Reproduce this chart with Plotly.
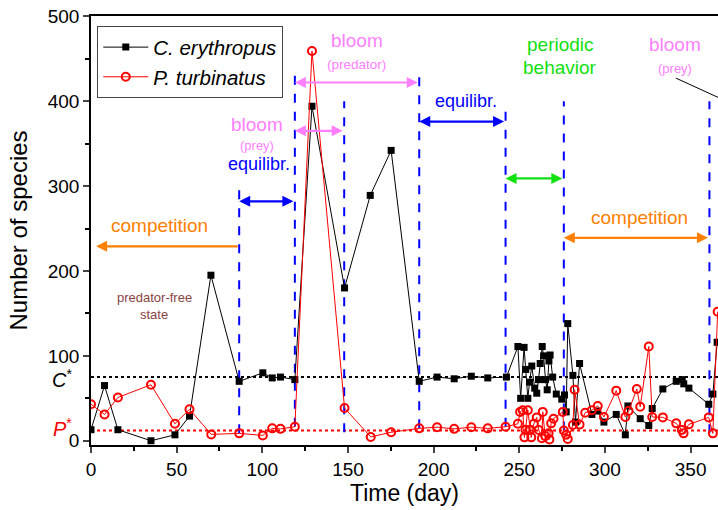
import plotly.graph_objects as go

# ---- data ----
c_day = [0, 7.9, 15.7, 35, 49, 57.5, 70, 86.5, 100.3, 105.8, 110.6, 119, 129, 148, 163, 175.2,
         191.6, 202, 212, 222, 231.6, 242.5, 249.2, 250.8, 252.8, 253.8, 255, 256, 257.3, 259, 260.2,
         261.2, 262.2, 263.4, 264.2, 265.3, 266.3, 267.3, 268, 269.5, 271.6, 274.8, 276.4, 277.4, 278.3,
         281.3, 282.8, 285.2, 292.4, 295.8, 299.4, 306.6, 311.9, 313.4, 320.6, 325.6, 327.6, 333.8,
         341.6, 345.1, 346, 349, 360.6, 363, 365.5]
c_val = [13, 65, 13, 0, 7, 29, 195, 70, 80, 74, 75, 72, 394, 180, 289, 342,
         70, 75, 73, 76, 74, 75, 111, 50, 110, 84, 50, 69, 88, 62, 56,
         72, 91, 111, 100, 72, 60, 94, 101, 75, 55, 49, 54, 34, 138,
         77, 22, 91, 31, 35, 22, 31, 7, 41, 26, 18, 38, 61,
         70, 72, 67, 62, 43, 55, 116]

p_day = [0, 7.9, 15.7, 35, 49, 57.5, 70.2, 86.5, 100.3, 105.8, 110.6, 119, 129, 148, 163.3, 175.2,
         191.6, 202, 212, 222, 231.6, 242, 249.2, 250.5, 252, 253, 253.6, 255, 256.4, 257, 258.5,
         260.2, 261.4, 263.2, 263.7, 265.1, 267.1, 267.6, 268.6, 270, 275.4, 276, 277.4, 278.3,
         281.3, 282.3, 285.2, 288.5, 292.4, 295.8, 299.4, 306.6, 311.9, 313.8, 318.6, 320.6, 325.6,
         327.6, 333.8, 341.6, 344.9, 345.9, 349, 360.6, 363, 365.8]
p_val = [43, 31, 51, 66, 20, 37, 7.5, 8.7, 6.3, 14.6, 14, 16.5, 459, 38.5, 4.5, 10,
         14.6, 16, 14, 16, 14.6, 16.5, 20, 34, 36, 4, 13, 36, 13, 4, 20,
         27.5, 12.6, 3, 34, 5.5, 8.7, 1.6, 20.5, 26, 34, 12, 7, 2,
         18.5, 60, 19, 33, 36, 41, 28, 59, 28, 35, 61, 40, 111,
         28, 27.5, 20.5, 12.6, 8.7, 19.3, 27.5, 8.7, 152]

c_star = 75
p_star = 12

# phase boundaries (day) and their vertical extents
bound_day = [86.5, 119, 147.8, 191.6, 242, 276, 361]
bound_bottom = [8.7, 16.5, 10, 14.6, 16.5, 12, 8.7]
bound_top = [300, 430, 400, 430, 390, 400, 400]

x_ticks = [0, 50, 100, 150, 200, 250, 300, 350]
y_ticks = [0, 100, 200, 300, 400, 500]

BLUE = "#0000FF"
PINK = "#FF80FF"
GREEN = "#11E011"
ORANGE = "#FF8000"
FONT = "Liberation Sans, Arial, sans-serif"

fig = go.Figure()

# reference dotted lines
fig.add_trace(go.Scatter(x=[0, 366], y=[c_star, c_star], mode="lines",
                         line=dict(color="black", width=2, dash="dot"), showlegend=False, hoverinfo="skip"))
fig.add_trace(go.Scatter(x=[0, 366], y=[p_star, p_star], mode="lines",
                         line=dict(color="red", width=2, dash="dot"), showlegend=False, hoverinfo="skip"))

# phase boundary lines
for d, b, t in zip(bound_day, bound_bottom, bound_top):
    fig.add_trace(go.Scatter(x=[d, d], y=[b, t], mode="lines",
                             line=dict(color=BLUE, width=2, dash="dash"), showlegend=False, hoverinfo="skip"))

fig.add_trace(go.Scatter(x=c_day, y=c_val, mode="lines+markers", name="<i>C. erythropus</i>",
                         line=dict(color="black", width=1),
                         marker=dict(symbol="square", size=7, color="black")))
fig.add_trace(go.Scatter(x=p_day, y=p_val, mode="lines+markers", name="<i>P. turbinatus</i>",
                         line=dict(color="red", width=1),
                         marker=dict(symbol="circle-open", size=8, color="red", line=dict(width=2))))

ann = []

def arrow(x0, x1, y, color, both=True):
    ann.append(dict(x=x0, y=y, ax=x1, ay=y, xref="x", yref="y", axref="x", ayref="y",
                    text="", showarrow=True, arrowhead=2, arrowsize=1, arrowwidth=2.2,
                    arrowcolor=color, arrowside="end+start" if both else "end",
                    startarrowhead=2, startarrowsize=1))

def label(x, y, text, color, size):
    ann.append(dict(x=x, y=y, xref="x", yref="y", text=text, showarrow=False,
                    xanchor="center", yanchor="middle",
                    font=dict(color=color, size=size, family=FONT)))

arrow(3, 86.5, 229, ORANGE, both=False)
label(40, 253, "competition", ORANGE, 19)
arrow(86.5, 119, 282, BLUE)
label(98, 326, "equilibr.", BLUE, 18)
arrow(119, 147.8, 365, PINK)
label(97, 373, "bloom", PINK, 19)
label(97, 348, "(prey)", PINK, 13)
arrow(119, 191.6, 422, PINK)
label(155, 472, "bloom", PINK, 19)
label(155, 443, "(predator)", PINK, 13.5)
arrow(191.6, 242, 376, BLUE)
label(219, 400, "equilibr.", BLUE, 18)
arrow(242, 276, 309, GREEN)
label(274, 467, "periodic", GREEN, 19)
label(274, 440, "behavior", GREEN, 19)
arrow(276, 361, 239, ORANGE)
label(320, 263, "competition", ORANGE, 19)
label(341, 467, "bloom", PINK, 19)
label(341, 438, "(prey)", PINK, 13)
label(37, 169, "predator-free", "#884444", 13)
label(37, 149, "state", "#884444", 13)
# pointer line for the last bloom
ann.append(dict(x=366.5, y=404, ax=340.5, ay=428, xref="x", yref="y", axref="x", ayref="y",
                text="", showarrow=True, arrowhead=0, arrowwidth=1, arrowcolor="black"))
# C* and P* labels
ann.append(dict(x=-0.046, y=c_star - 2, xref="paper", yref="y", text="<i>C</i><sup>*</sup>",
                xanchor="center", yanchor="middle",
                showarrow=False, font=dict(size=20, color="black", family=FONT)))
ann.append(dict(x=-0.046, y=p_star + 4, xref="paper", yref="y", text="<i>P</i><sup>*</sup>",
                xanchor="center", yanchor="middle",
                showarrow=False, font=dict(size=20, color="red", family=FONT)))
# y-axis title
ann.append(dict(x=-0.1164, y=0.5, xref="paper", yref="paper", text="Number of species",
                textangle=-90, xanchor="center", yanchor="middle", showarrow=False,
                font=dict(size=24, color="black", family=FONT)))

fig.update_layout(
    width=718, height=510,
    margin=dict(l=91, r=0, t=16, b=65),
    plot_bgcolor="white", paper_bgcolor="white",
    font=dict(family=FONT, color="black"),
    annotations=ann,
    legend=dict(x=0.01, y=0.976, xanchor="left", yanchor="top",
                bordercolor="#444444", borderwidth=1, bgcolor="white", itemwidth=45,
                font=dict(size=20.5, family=FONT), tracegroupgap=0),
    xaxis=dict(range=[0, 366], tickvals=x_ticks, ticks="outside", ticklen=6, tickwidth=1.5,
               showline=True, linecolor="black", linewidth=1.5, mirror=True, showgrid=False,
               zeroline=False, tickfont=dict(size=19), automargin=False,
               minor=dict(tickvals=[25, 75, 125, 175, 225, 275, 325], ticks="outside", ticklen=4,
                          tickcolor="black"),
               title=dict(text="Time (day)", font=dict(size=23), standoff=6)),
    yaxis=dict(range=[-5, 500.3], tickvals=y_ticks, ticks="outside", ticklen=6, tickwidth=1.5,
               showline=True, linecolor="black", linewidth=1.5, showgrid=False,
               zeroline=False, tickfont=dict(size=19), automargin=False,
               ticklabeloverflow="allow",
               minor=dict(tickvals=[50, 150, 250, 350, 450], ticks="outside", ticklen=4,
                          tickcolor="black")),
)

# remove the default 8px page margin so the figure fills the window exactly
fig.write_html("out.html", config={"displayModeBar": False},
               post_script="document.body.style.margin='0px';document.body.style.overflow='hidden';")
